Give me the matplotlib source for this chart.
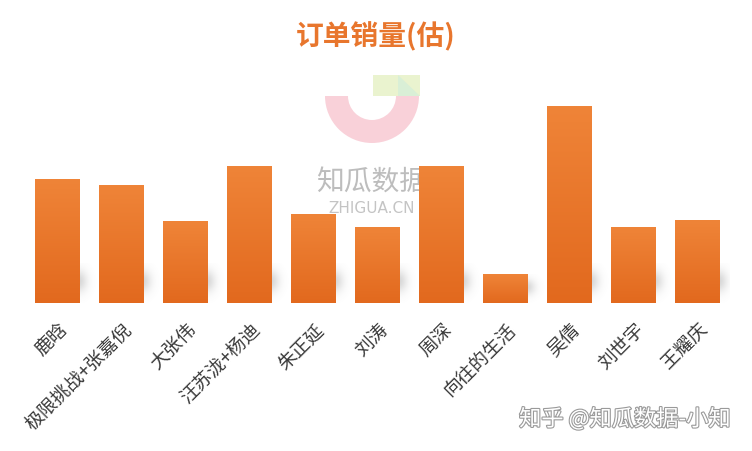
import numpy as np
import matplotlib
matplotlib.use("Agg")
import matplotlib.pyplot as plt
from matplotlib.patches import Wedge, Rectangle, Polygon
import matplotlib.patheffects as pe

plt.rcParams['font.family'] = ['Noto Sans CJK SC', 'DejaVu Sans']

categories = ["鹿晗", "极限挑战+张嘉倪", "大张伟", "汪苏泷+杨迪", "朱正延", "刘涛",
              "周深", "向往的生活", "吴倩", "刘世宇", "王耀庆"]
values = [124, 118, 82, 137, 89, 76, 137, 29, 197, 76, 83]
title = "订单销量(估)"

fig = plt.figure(figsize=(7.52, 4.52), dpi=100)
fig.patch.set_facecolor("white")

# watermark logo (behind)
wax = fig.add_axes([0, 0, 1, 1], zorder=0)
wax.set_xlim(0, 752); wax.set_ylim(452, 0); wax.axis("off")
cx, cy = 372, 97
wax.add_patch(Wedge((cx, cy), 47, 0, 180, width=23, facecolor="#F9D1D9", edgecolor="none"))
wax.add_patch(Rectangle((373, 76), 47, 21, facecolor="#EAF3CF", edgecolor="none"))
wax.add_patch(Polygon([(398, 76), (420, 97), (398, 97)], closed=True,
                      facecolor="#D9EFD6", edgecolor="none"))
wax.text(372, 183, "知瓜数据", ha="center", va="center", fontsize=20, color="#BDBDBD")
wax.text(372, 209, "ZHIGUA.CN", ha="center", va="center", fontsize=11, color="#C4C4C4",
         family=["DejaVu Sans"])

ax = fig.add_axes([25.5 / 752, 148 / 452, 704 / 752, 224 / 452], zorder=1)
ax.patch.set_alpha(0)
x = np.arange(len(categories))
ax.set_xlim(-0.5, len(categories) - 0.5)
ax.set_ylim(0, 224)

bw = 0.70

# soft shadow to the right of each bar
hh, ww = 40, 30
vy = np.linspace(0, 1, hh)
vprof = np.exp(-((vy - 0.55) / 0.28) ** 2)
hx = np.linspace(0, 1, ww)
hprof = np.exp(-(hx / 0.45) ** 2)
shadow = np.zeros((hh, ww, 4))
shadow[..., :3] = 0.5
shadow[..., 3] = 0.32 * vprof[:, None] * hprof[None, :]
for xi, v in zip(x, values):
    ax.imshow(shadow, extent=(xi + bw / 2 - 0.03, xi + bw / 2 + 0.27, 0, min(40, v)),
              origin="lower", aspect="auto", zorder=1, interpolation="bilinear")

bars = ax.bar(x, values, width=bw, color="#EB792E", zorder=2)
grad = np.linspace(0, 1, 100)[:, None]
cmap = matplotlib.colors.LinearSegmentedColormap.from_list("g", ["#E2691E", "#EF8438"])
for b in bars:
    bx, by = b.get_x(), b.get_y()
    im = ax.imshow(grad, extent=(bx, bx + b.get_width(), by, by + b.get_height()),
                   origin="lower", cmap=cmap, aspect="auto", zorder=3)
    im.set_clip_path(b)

ax.set_xticks(x)
ax.set_xticklabels(categories, rotation=45, ha="right", va="top", rotation_mode="anchor",
                   fontsize=13.5, color="#3A3A3A", fontweight="light")
ax.tick_params(axis="x", length=0, pad=11)
ax.set_yticks([])
for s in ax.spines.values():
    s.set_visible(False)

fig.text(0.5, 1 - 37 / 452, title, ha="center", va="center", fontsize=20,
         fontweight="bold", color="#E8762D")

fig.text(625 / 752, 1 - 420 / 452, "知乎 @知瓜数据-小知", ha="center", va="center",
         fontsize=16, color="white",
         path_effects=[pe.withStroke(linewidth=1.6, foreground="#9A9A9A")], zorder=5)

fig.savefig("out.png", dpi=100)
